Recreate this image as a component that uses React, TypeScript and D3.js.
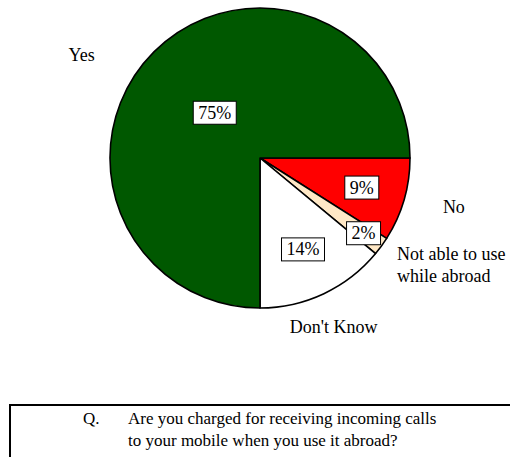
import React, { useEffect, useRef } from "react";
import * as d3 from "d3";

const categories = ["No", "Not able to use while abroad", "Don't Know", "Yes"];
const values = [9, 2, 14, 75];
const pctLabels = ["9%", "2%", "14%", "75%"];
const colors = ["#FF0000", "#FFE8C6", "#FFFFFF", "#005800"];
const outerLines = [["No"], ["Not able to use", "while abroad"], ["Don't Know"], ["Yes"]];
const questionLines = ["Are you charged for receiving incoming calls", "to your mobile when you use it abroad?"];

// layout
const W = 510, H = 457;
const CX = 260, CY = 158, R = 150;
const pctRadius = [106, 128, 101, 64];
const outerPolar = [
  { r: 200, da: -2, anchor: "middle" },
  { r: 174, da: 2, anchor: "start" },
  { r: 184, da: 1.6, anchor: "middle" },
  { r: 206, da: -15, anchor: "middle" },
];
const FONT = "'Liberation Serif', 'Times New Roman', serif";

export default function App() {
  const ref = useRef<SVGSVGElement>(null);
  useEffect(() => {
    const svg = d3.select(ref.current);
    svg.selectAll("*").remove();
    const pie = d3.pie<number>().sort(null).startAngle(Math.PI / 2).endAngle(Math.PI / 2 + 2 * Math.PI);
    const arcs = pie(values);
    const arc = d3.arc<d3.PieArcDatum<number>>().innerRadius(0).outerRadius(R);
    const g = svg.append("g").attr("transform", `translate(${CX},${CY})`);
    g.selectAll("path.slice").data(arcs).join("path")
      .attr("class", "slice")
      .attr("d", arc as any)
      .attr("fill", (_, i) => colors[i])
      .attr("stroke", "#000")
      .attr("stroke-width", 1.6)
      .attr("stroke-linejoin", "round");

    // percentage labels with boxes
    arcs.forEach((a, i) => {
      const mid = (a.startAngle + a.endAngle) / 2;
      const x = Math.sin(mid) * pctRadius[i];
      const y = -Math.cos(mid) * pctRadius[i];
      const lg = g.append("g").attr("transform", `translate(${x},${y})`);
      const rect = lg.append("rect").attr("fill", "#fff").attr("stroke", "#000").attr("stroke-width", 1);
      const t = lg.append("text").text(pctLabels[i])
        .attr("text-anchor", "middle").attr("y", 6)
        .attr("font-family", FONT).attr("font-size", 18).attr("fill", "#000");
      const bb = (t.node() as SVGTextElement).getBBox();
      const w = bb.width + 10, h = 23;
      rect.attr("x", -w / 2).attr("y", -h / 2).attr("width", w).attr("height", h);
    });

    // outer category labels
    arcs.forEach((a, i) => {
      const mid = (a.startAngle + a.endAngle) / 2 + (outerPolar[i].da * Math.PI) / 180;
      const x = Math.sin(mid) * outerPolar[i].r;
      const y = -Math.cos(mid) * outerPolar[i].r;
      const lines = outerLines[i];
      const lh = 22;
      const t = g.append("text")
        .attr("font-family", FONT).attr("font-size", 18).attr("fill", "#000")
        .attr("text-anchor", outerPolar[i].anchor);
      lines.forEach((ln, j) => {
        t.append("tspan").attr("x", x)
          .attr("y", y + 6 + (j - (lines.length - 1) / 2) * lh)
          .text(ln);
      });
    });

    // question box
    svg.append("rect").attr("x", 10).attr("y", 405).attr("width", 520).attr("height", 80)
      .attr("fill", "none").attr("stroke", "#000").attr("stroke-width", 2);
    svg.append("text").attr("x", 83).attr("y", 424)
      .attr("font-family", FONT).attr("font-size", 17).text("Q.");
    questionLines.forEach((ln, j) => {
      svg.append("text").attr("x", 128).attr("y", 424 + j * 22)
        .attr("font-family", FONT).attr("font-size", 17).text(ln);
    });
  }, []);
  return (
    <svg ref={ref} width={W} height={H} style={{ position: "absolute", left: 0, top: 0, background: "#fff" }} />
  );
}
